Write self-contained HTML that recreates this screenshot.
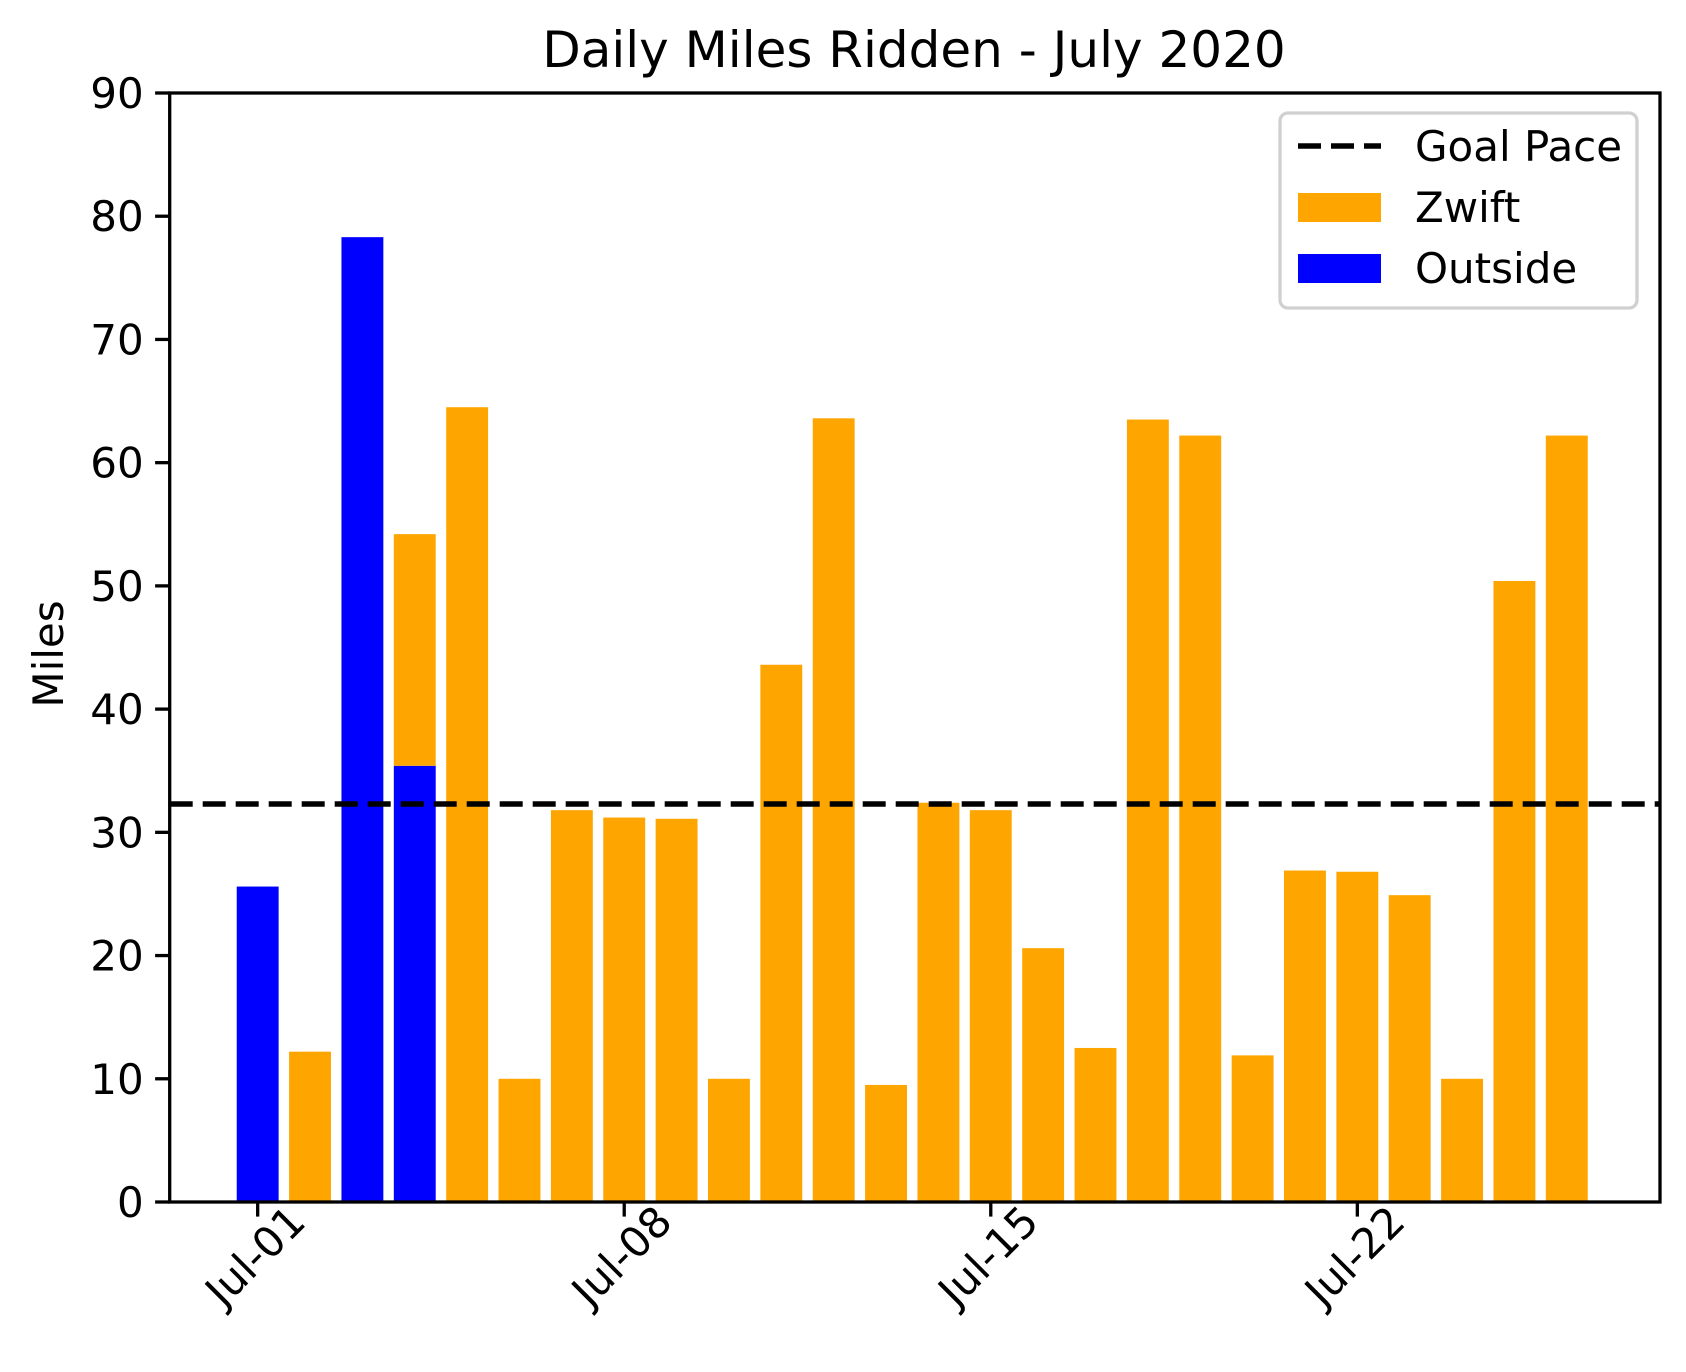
<!DOCTYPE html>
<html><head><meta charset="utf-8"><style>
body{margin:0;background:#fff}
svg{display:block;font-family:"DejaVu Sans","Liberation Sans",sans-serif}
</style></head><body>
<svg id="chart" width="1686" height="1372" viewBox="0 0 1686 1372" xmlns="http://www.w3.org/2000/svg">
<rect width="1686" height="1372" fill="#fff"/>
<text x="914" y="67" font-size="50" text-anchor="middle">Daily Miles Ridden - July 2020</text>
<text transform="translate(63,654) rotate(-90)" font-size="42" text-anchor="middle">Miles</text>
<g id="bars"></g>
<g id="goal"></g>
<g id="yticks"></g>
<g id="xticks"></g>
<rect x="169.7" y="93" width="1490.3" height="1109" fill="none" stroke="#000" stroke-width="3.3"/>
<g>
<rect x="1280" y="113" width="357" height="195" rx="8" fill="#fff" fill-opacity="0.8" stroke="#d0d0d0" stroke-width="3.3"/>
<line x1="1298" y1="146" x2="1381" y2="146" stroke="#000" stroke-width="5.5" stroke-dasharray="23 10"/>
<text x="1415" y="161" font-size="42">Goal Pace</text>
<rect x="1298" y="193" width="83" height="29" fill="#FFA500"/>
<text x="1415" y="222" font-size="42">Zwift</text>
<rect x="1298" y="254" width="83" height="29" fill="#0000FF"/>
<text x="1415" y="283" font-size="42">Outside</text>
</g>
</svg>
<script>
const days = [0,1,2,3,4,5,6,7,8,9,10,11,12,13,14,15,16,17,18,19,20,21,22,23,24,25];
const outside = [25.6,0,78.3,35.4,0,0,0,0,0,0,0,0,0,0,0,0,0,0,0,0,0,0,0,0,0,0];
const zwift = [0,12.2,0,18.8,64.5,10,31.8,31.2,31.1,10,43.6,63.6,9.5,32.4,31.8,20.6,12.5,63.5,62.2,11.9,26.9,26.8,24.9,10,50.4,62.2];
const goalPace = 32.3;
const yTicks = [0,10,20,30,40,50,60,70,80,90];
const xTickDays = [0,7,14,21];
const xTickLabels = ["Jul-01","Jul-08","Jul-15","Jul-22"];

const NS="http://www.w3.org/2000/svg";
const L=169.7,R=1660,T=93,B=1202;
const xmin=-1.68,xmax=26.78,ymax=90;
const xs=d=>L+(d-xmin)/(xmax-xmin)*(R-L);
const ys=v=>B-v/ymax*(B-T);
const bw=0.8;
function mk(tag,attrs,parent){const e=document.createElementNS(NS,tag);for(const k in attrs)e.setAttribute(k,attrs[k]);parent.appendChild(e);return e;}
const bars=document.getElementById('bars');
days.forEach((d,i)=>{
  const x0=xs(d-bw/2),w=xs(d+bw/2)-x0;
  if(outside[i]>0){
    const r=mk('rect',{x:x0,y:ys(outside[i]),width:w,height:ys(0)-ys(outside[i]),fill:'#0000FF'},bars);
    
    
  }
  if(zwift[i]>0){
    const b=outside[i],t=outside[i]+zwift[i];
    const r=mk('rect',{x:x0,y:ys(t),width:w,height:ys(b)-ys(t),fill:'#FFA500'},bars);
    
    
  }
});
const g=document.getElementById('goal');
const gl=mk('line',{x1:L,x2:R,y1:ys(goalPace),y2:ys(goalPace),stroke:'#000','stroke-width':5.5,'stroke-dasharray':'23 10'},g);


const yt=document.getElementById('yticks');
yTicks.forEach(v=>{
  const y=ys(v);
  const l=mk('line',{x1:L-14.6,x2:L,y1:y,y2:y,stroke:'#000','stroke-width':3.3},yt);
  
  
  const t=mk('text',{x:L-26,y:y+15,'font-size':42,'text-anchor':'end'},yt);
  t.textContent=v;
  
  
});
const xt=document.getElementById('xticks');
xTickDays.forEach((d,i)=>{
  const x=xs(d);
  const l=mk('line',{x1:x,x2:x,y1:B,y2:B+14.6,stroke:'#000','stroke-width':3.3},xt);
  
  
  const t=mk('text',{transform:`translate(${x+50},${B+22}) rotate(-45)`,'font-size':42,'text-anchor':'end'},xt);
  t.textContent=xTickLabels[i];
  
  
});
</script>
</body></html>
